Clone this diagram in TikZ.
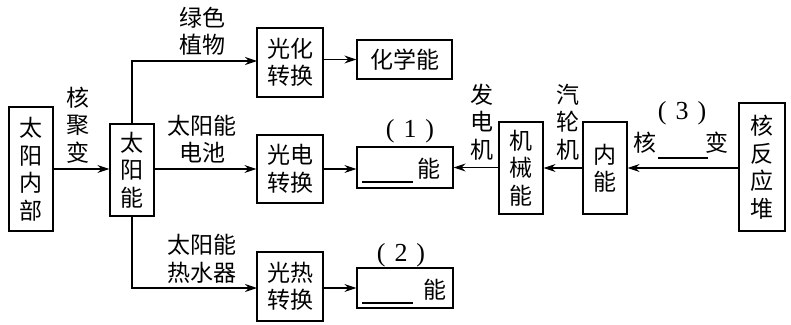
\documentclass[tikz,border=0pt]{standalone}
\usepackage{fontspec}
\newfontfamily\cjk{Noto Sans CJK SC}
\newfontfamily\digitfont{Liberation Serif}
\usetikzlibrary{arrows.meta}
\newcommand{\paren}[1]{{\digitfont\fontsize{26}{27}\selectfont (\hspace{9pt}#1\hspace{9pt})}}
\tikzset{
  every node/.style={font=\cjk\fontsize{23}{27.5}\selectfont, inner sep=0pt, align=center},
  box/.style={draw, line width=1.2pt},
  arr/.style={line width=1.2pt, -{Stealth[length=12pt,width=8pt]}},
  blank/.style={line width=1.2pt}
}
\begin{document}
\begin{tikzpicture}[x=1pt,y=-1pt]
\useasboundingbox (0,0) rectangle (791,324);
% boxes
\node[box, minimum width=44pt, minimum height=124pt] (nb) at (31,169) {太\\阳\\内\\部};
\node[box, minimum width=44pt, minimum height=92pt] (sun) at (132,170) {太\\阳\\能};
\node[box, minimum width=66pt, minimum height=69pt] (gh) at (290,62.5) {光化\\转换};
\node[box, minimum width=66pt, minimum height=68pt] (gd) at (290,169) {光电\\转换};
\node[box, minimum width=66pt, minimum height=69pt] (gr) at (290,286.5) {光热\\转换};
\node[box, minimum width=95pt, minimum height=39pt] (hx) at (404.5,59.5) {化学能};
\node[box, minimum width=96pt, minimum height=41pt] (e1) at (405,167.5) {};
\node[box, minimum width=96pt, minimum height=40pt] (e2) at (405,288) {};
\node[box, minimum width=44pt, minimum height=92pt] (jx) at (521,168) {机\\械\\能};
\node[box, minimum width=44pt, minimum height=92pt] (nn) at (605,168) {内\\能};
\node[box, minimum width=46pt, minimum height=128pt] (hf) at (762,167) {核\\反\\应\\堆};
% contents of blank boxes
\node (n1) at (428.5,169) {能};
\draw[blank] (362,182) -- (413,182);
\node (n2) at (434.5,290) {能};
\draw[blank] (362,303) -- (413,303);
\node (q1) at (410,131) {\paren{1}};
\node (q2) at (401,255) {\paren{2}};
\node (q3) at (682,113) {\paren{3}};
\node (h3) at (645,143) {核};
\draw[blank] (658,158) -- (708,158);
\node (b3) at (717,143) {变};
% labels
\node (l0) at (78,125) {核\\聚\\变};
\node (l1) at (202,31) {绿色\\植物};
\node (l2) at (202,139) {太阳能\\电池};
\node (l3) at (202,259) {太阳能\\热水器};
\node (l4) at (482,122) {发\\电\\机};
\node (l5) at (568,122) {汽\\轮\\机};
% connectors
\draw[arr] (nb.east) -- (nb.east -| sun.west);
\draw[arr] (sun.north) |- (132,61) -- (257,61);
\draw[arr] (sun.east |- gd.west) -- (gd.west);
\draw[arr] (sun.south) |- (132,288) -- (257,288);
\draw[arr] (gh.east |- hx.west) -- (hx.west);
\draw[arr] (gd.east) -- (gd.east -| e1.west);
\draw[arr] (gr.east |- e2.west) -- (e2.west);
\draw[arr] (jx.west |- e1.east) -- (e1.east);
\draw[arr] (nn.west) -- (jx.east);
\draw[arr] (hf.west |- nn.east) -- (nn.east);
\end{tikzpicture}
\end{document}
